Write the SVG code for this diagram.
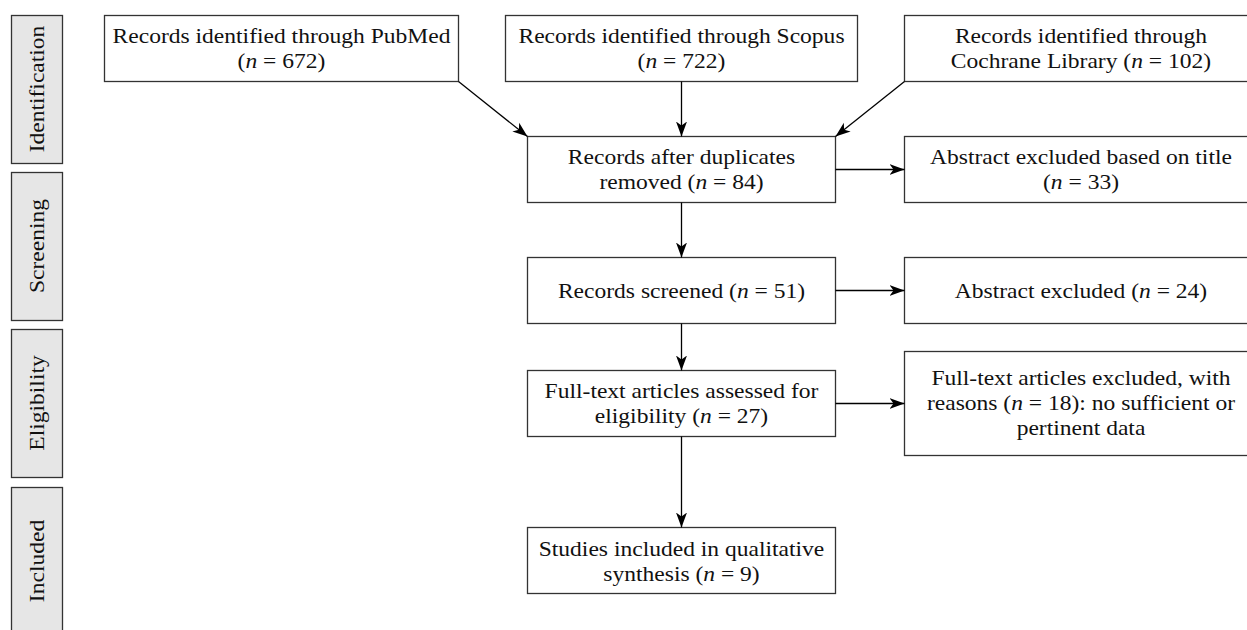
<svg xmlns="http://www.w3.org/2000/svg" width="1247" height="630" viewBox="0 0 1247 630">
<defs>
<style>
.box{fill:#fff;stroke:#333;stroke-width:1.3}
.side{fill:#e6e6e6;stroke:#333;stroke-width:1.3}
.t{font-family:"Liberation Serif","Times New Roman",serif;font-size:21.5px;fill:#111;text-anchor:middle}
.i{font-style:italic}
.c{stroke:#000;stroke-width:1.3;fill:none;marker-end:url(#ah)}
</style>
<marker id="ah" markerUnits="userSpaceOnUse" markerWidth="16" markerHeight="12" refX="15" refY="6" orient="auto">
<path d="M0,0.5 L15,6 L0,11.5 L4,6 Z" fill="#000"/>
</marker>
</defs>
<rect width="1247" height="630" fill="#fff"/>

<g id="side-identification">
<rect class="side" x="11.5" y="15.5" width="51" height="148"/>
<text class="t" transform="translate(44,89) rotate(-90) scale(1.095,1)">Identification</text>
</g>
<g id="side-screening">
<rect class="side" x="11.5" y="172.5" width="51" height="148"/>
<text class="t" transform="translate(44,246) rotate(-90) scale(1.095,1)">Screening</text>
</g>
<g id="side-eligibility">
<rect class="side" x="11.5" y="329.5" width="51" height="148"/>
<text class="t" transform="translate(44,403) rotate(-90) scale(1.095,1)">Eligibility</text>
</g>
<g id="side-included">
<rect class="side" x="11.5" y="487.5" width="51" height="160"/>
<text class="t" transform="translate(44,561) rotate(-90) scale(1.095,1)">Included</text>
</g>

<g id="pubmed">
<rect class="box" x="104.5" y="15.5" width="354" height="66"/>
<g transform="translate(281.5,0) scale(1.095,1)">
<text class="t" x="0" y="43.5">Records identified through PubMed</text>
<text class="t" x="0" y="68.5">(<tspan class="i">n</tspan> = 672)</text>
</g>
</g>
<g id="scopus">
<rect class="box" x="505.5" y="15.5" width="352" height="66"/>
<g transform="translate(681.5,0) scale(1.095,1)">
<text class="t" x="0" y="43.5">Records identified through Scopus</text>
<text class="t" x="0" y="68.5">(<tspan class="i">n</tspan> = 722)</text>
</g>
</g>
<g id="cochrane">
<rect class="box" x="904.5" y="15.5" width="353" height="66"/>
<g transform="translate(1081,0) scale(1.095,1)">
<text class="t" x="0" y="43.5">Records identified through</text>
<text class="t" x="0" y="68.5">Cochrane Library (<tspan class="i">n</tspan> = 102)</text>
</g>
</g>
<g id="duplicates-removed">
<rect class="box" x="527.5" y="136.5" width="308" height="66"/>
<g transform="translate(681.5,0) scale(1.095,1)">
<text class="t" x="0" y="164.5">Records after duplicates</text>
<text class="t" x="0" y="189.5">removed (<tspan class="i">n</tspan> = 84)</text>
</g>
</g>
<g id="excluded-title">
<rect class="box" x="904.5" y="136.5" width="353" height="66"/>
<g transform="translate(1081,0) scale(1.095,1)">
<text class="t" x="0" y="164.5">Abstract excluded based on title</text>
<text class="t" x="0" y="189.5">(<tspan class="i">n</tspan> = 33)</text>
</g>
</g>
<g id="screened">
<rect class="box" x="527.5" y="257.5" width="308" height="66"/>
<g transform="translate(681.5,0) scale(1.095,1)">
<text class="t" x="0" y="298.5">Records screened (<tspan class="i">n</tspan> = 51)</text>
</g>
</g>
<g id="abstract-excluded">
<rect class="box" x="904.5" y="257.5" width="353" height="66"/>
<g transform="translate(1081,0) scale(1.095,1)">
<text class="t" x="0" y="298.5">Abstract excluded (<tspan class="i">n</tspan> = 24)</text>
</g>
</g>
<g id="fulltext-assessed">
<rect class="box" x="527.5" y="370.5" width="308" height="66"/>
<g transform="translate(681.5,0) scale(1.095,1)">
<text class="t" x="0" y="398.5">Full-text articles assessed for</text>
<text class="t" x="0" y="423.5">eligibility (<tspan class="i">n</tspan> = 27)</text>
</g>
</g>
<g id="fulltext-excluded">
<rect class="box" x="904.5" y="351.5" width="353" height="104"/>
<g transform="translate(1081,0) scale(1.095,1)">
<text class="t" x="0" y="385.5">Full-text articles excluded, with</text>
<text class="t" x="0" y="410.5">reasons (<tspan class="i">n</tspan> = 18): no sufficient or</text>
<text class="t" x="0" y="435.5">pertinent data</text>
</g>
</g>
<g id="included-studies">
<rect class="box" x="527.5" y="527.5" width="308" height="66"/>
<g transform="translate(681.5,0) scale(1.095,1)">
<text class="t" x="0" y="556.5">Studies included in qualitative</text>
<text class="t" x="0" y="581.5">synthesis (<tspan class="i">n</tspan> = 9)</text>
</g>
</g>

<g id="connectors">
<line class="c" x1="458.5" y1="81.5" x2="527.5" y2="136.5"/>
<line class="c" x1="681.5" y1="81.5" x2="681.5" y2="136.5"/>
<line class="c" x1="904.5" y1="81.5" x2="835.5" y2="136.5"/>
<line class="c" x1="835.5" y1="169.5" x2="904.5" y2="169.5"/>
<line class="c" x1="681.5" y1="202.5" x2="681.5" y2="257.5"/>
<line class="c" x1="835.5" y1="290.5" x2="904.5" y2="290.5"/>
<line class="c" x1="681.5" y1="323.5" x2="681.5" y2="370.5"/>
<line class="c" x1="835.5" y1="403.5" x2="904.5" y2="403.5"/>
<line class="c" x1="681.5" y1="436.5" x2="681.5" y2="527.5"/>
</g>
</svg>
